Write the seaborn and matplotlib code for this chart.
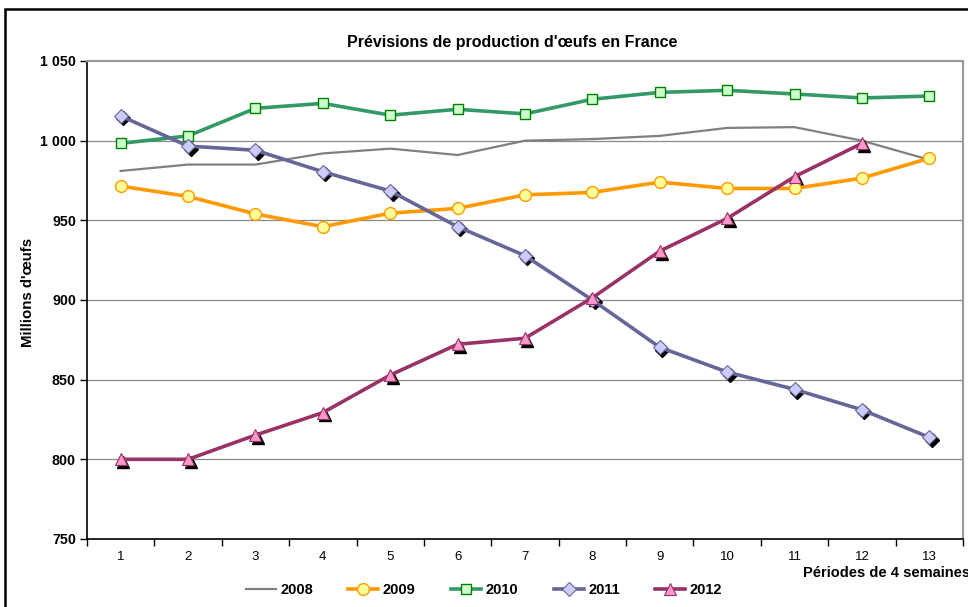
import matplotlib
matplotlib.use("Agg")
import matplotlib.pyplot as plt
import matplotlib.transforms as mtransforms
from matplotlib.patches import Rectangle
from matplotlib.ticker import FixedLocator, FuncFormatter
import seaborn as sns
import numpy as np
import pandas as pd

# Forecast egg production by 4-week period (millions of eggs)
periods = list(range(1, 14))
y2008 = [981, 985, 985, 992, 995, 991, 1000, 1001, 1003, 1008, 1008.5, 1000, 988]
y2009 = [971.5, 965, 954, 946, 954.5, 957.5, 966, 967.5, 974, 970, 970, 976.5, 989]
y2010 = [998.3, 1003, 1020.3, 1023.4, 1016, 1019.7, 1016.8, 1026, 1030.3, 1031.6, 1029.3, 1026.8, 1028]
y2011 = [1015.5, 996.6, 994, 980.5, 968.4, 946, 927.8, 900, 870.3, 854.8, 843.9, 831.1, 813.8]
y2012 = [800, 800, 815.2, 829.3, 852.9, 872.2, 876, 901.4, 930.7, 951.2, 977.4, 998.3]
years = ["2008", "2009", "2010", "2011", "2012"]
yticks = [750, 800, 850, 900, 950, 1000, 1050]

series = {"2008": y2008, "2009": y2009, "2010": y2010, "2011": y2011, "2012": y2012}
df = pd.concat(
    [pd.DataFrame({"periode": periods[:len(v)], "valeur": v, "annee": k}) for k, v in series.items()],
    ignore_index=True,
)

styles = {
    "2008": dict(color="#808080", lw=1.6, marker=None),
    "2009": dict(color="#FF9900", lw=2.6, marker="o", ms=8.5, mfc="#FFFF99", mec="#FF9900", mew=1.0, shadow=False),
    "2010": dict(color="#339966", lw=2.6, marker="s", ms=7.0, mfc="#CCFFCC", mec="#008000", mew=1.0, shadow=False),
    "2011": dict(color="#666699", lw=2.6, marker="D", ms=7.0, mfc="#CCCCFF", mec="#666699", mew=0.8, shadow=True),
    "2012": dict(color="#993366", lw=2.6, marker="^", ms=9.0, mfc="#FF99CC", mec="#993366", mew=0.8, shadow=True),
}

plt.rcParams["font.family"] = ["Liberation Sans", "DejaVu Sans"]

fig = plt.figure(figsize=(9.68, 6.07), dpi=100)
ax = fig.add_axes([87 / 968, 1 - 539 / 607, (963 - 87) / 968, (539 - 61) / 607])

handles = []
for yr in years:
    st = styles[yr]
    sub = df[df["annee"] == yr]
    sns.lineplot(data=sub, x="periode", y="valeur", ax=ax, color=st["color"],
                 linewidth=st["lw"], legend=False, zorder=3, estimator=None)
    line = ax.lines[-1]
    if st["marker"]:
        if st["shadow"]:
            shadow_tr = mtransforms.offset_copy(ax.transData, fig=fig, x=1.8, y=-1.8, units="points")
            ax.plot(sub["periode"], sub["valeur"], linestyle="none", marker=st["marker"],
                    ms=st["ms"], mfc="black", mec="black", transform=shadow_tr, zorder=4)
        line.set_marker(st["marker"])
        line.set_markersize(st["ms"])
        line.set_markerfacecolor(st["mfc"])
        line.set_markeredgecolor(st["mec"])
        line.set_markeredgewidth(st["mew"])
        line.set_zorder(5)
    handles.append(line)

ax.set_xlim(0.5, 13.5)
ax.set_ylim(750, 1050)

# grid lines
for v in yticks[1:-1]:
    ax.axhline(v, color="#8a8a8a", lw=0.9, zorder=1)

ax.yaxis.set_major_locator(FixedLocator(yticks))
ax.yaxis.set_major_formatter(FuncFormatter(lambda v, p: f"{int(v):,}".replace(",", " ")))
ax.xaxis.set_major_locator(FixedLocator(periods))
ax.xaxis.set_minor_locator(FixedLocator(np.arange(0.5, 14, 1.0)))
ax.tick_params(axis="x", which="major", length=0, pad=9, labelsize=9.5, colors="black")
ax.tick_params(axis="x", which="minor", length=5, width=1.0, direction="out", color="black")
ax.tick_params(axis="y", which="major", length=5, width=1.0, direction="out", pad=3, labelsize=10.3)
for lab in ax.get_yticklabels():
    lab.set_fontweight("bold")

for s in ["top", "right"]:
    ax.spines[s].set_color("#999999")
    ax.spines[s].set_linewidth(1.5)
for s in ["left", "bottom"]:
    ax.spines[s].set_color("black")
    ax.spines[s].set_linewidth(1.2)

ax.set_xlabel("")
ax.set_ylabel("")

fig.text(512 / 968, 1 - 42 / 607, "Prévisions de production d'œufs en France",
         ha="center", va="center", fontsize=11.5, fontweight="bold")
fig.text(28 / 968, 1 - 292 / 607, "Millions d'œufs", rotation=90,
         ha="center", va="center", fontsize=10.8, fontweight="bold")
fig.text(803 / 968, 1 - 573 / 607, "Périodes de 4 semaines",
         ha="left", va="center", fontsize=10.5, fontweight="bold")

fig.legend(handles, years, loc="center", bbox_to_anchor=(484 / 968, 1 - 590 / 607),
           ncol=5, frameon=False, handlelength=2.05, columnspacing=2.45, handletextpad=0.3,
           borderpad=0, prop={"weight": "bold", "size": 10.5})

# outer chart frame
fig.patches.append(Rectangle((5 / 968, -0.1), 1.2, (1 - 9 / 607) + 0.1, transform=fig.transFigure,
                             fill=False, edgecolor="black", lw=1.8, zorder=10))

fig.savefig("out.png", dpi=100)
